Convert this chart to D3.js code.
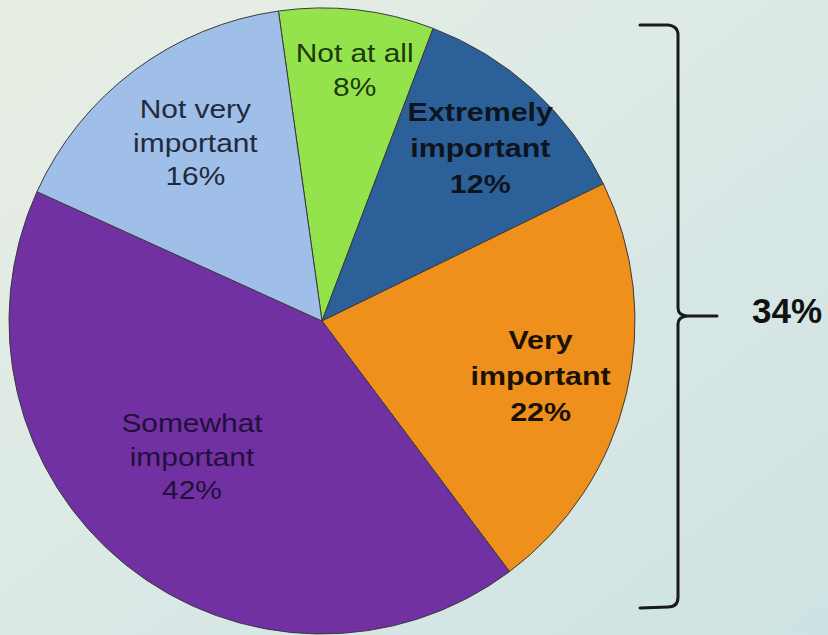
<!DOCTYPE html>
<html><head><meta charset="utf-8">
<script src="https://cdn.jsdelivr.net/npm/d3@7"></script>
<style>html,body{margin:0;padding:0;overflow:hidden;}svg{display:block;}</style>
</head><body>
<script>
// ---- data ----
const categories = ["Not at all", "Extremely important", "Very important", "Somewhat important", "Not very important"];
const labelLines = [["Not at all"], ["Extremely", "important"], ["Very", "important"], ["Somewhat", "important"], ["Not very", "important"]];
const values = [8, 12, 22, 42, 16];
const colors = ["#95e34c", "#2c6099", "#ef901c", "#7131a3", "#9fbfe8"];
const textColors = ["#1d3a0c", "#0d1420", "#1a1206", "#22103a", "#1f2a3e"];
const boldLabel = [false, true, true, false, false];
const bracketLabel = "34%";

// ---- layout ----
const W = 828, H = 635;
const cx = 322, cy = 321, R = 313;
const startDeg = -8;
const labelRadiusFactor = [0.81, 0.75, 0.72, 0.6, 0.70];
const labelAngleShift = [1, 0, 0.5, 5, 1.5];

const svg = d3.select("body").append("svg").attr("width", W).attr("height", H);
const defs = svg.append("defs");
const grad = defs.append("linearGradient").attr("id", "bg").attr("x1", "0").attr("y1", "0").attr("x2", "1").attr("y2", "1");
grad.append("stop").attr("offset", "0").attr("stop-color", "#e9eee3");
grad.append("stop").attr("offset", "0.5").attr("stop-color", "#dbe9e6");
grad.append("stop").attr("offset", "1").attr("stop-color", "#cde2e2");
svg.append("rect").attr("width", W).attr("height", H).attr("fill", "url(#bg)");

const rad = d => d * Math.PI / 180;
const pie = d3.pie().sort(null).value(d => d)
  .startAngle(rad(startDeg)).endAngle(rad(startDeg + 360));
const arcs = pie(values);
const arc = d3.arc().innerRadius(0).outerRadius(R);

const g = svg.append("g").attr("transform", `translate(${cx},${cy})`);
g.selectAll("path.slice").data(arcs).join("path")
  .attr("class", "slice")
  .attr("d", arc)
  .attr("fill", (d, i) => colors[i])
  .attr("stroke", "#3a3a3a")
  .attr("stroke-width", 1);

const fontSize = 26;
arcs.forEach((d, i) => {
  const a = (d.startAngle + d.endAngle) / 2 + rad(labelAngleShift[i]);
  const r = R * labelRadiusFactor[i];
  const x = r * Math.sin(a), y = -r * Math.cos(a);
  const lineH = boldLabel[i] ? 36 : 33.5;
  const sx = boldLabel[i] ? 1.17 : 1.15;
  const lines = labelLines[i].concat([values[i] + "%"]);
  const t = g.append("text")
    .attr("transform", `translate(${x},${y}) scale(${sx},1)`)
    .attr("text-anchor", "middle")
    .attr("font-family", "Liberation Sans, Arial, sans-serif")
    .attr("font-size", fontSize)
    .attr("font-weight", boldLabel[i] ? "bold" : "normal")
    .attr("fill", textColors[i]);
  const y0 = -(lines.length - 1) * lineH / 2 + fontSize * 0.36;
  lines.forEach((s, k) => {
    t.append("tspan").attr("x", 0).attr("y", y0 + k * lineH).text(s);
  });
});

// ---- bracket ----
const bx = 678, bTop = 25, bBot = 607, bLeft = 640, tipY = 316, tipX = 717;
const p = d3.path();
p.moveTo(bLeft, bTop);
p.lineTo(bx - 10, bTop);
p.quadraticCurveTo(bx, bTop + 1, bx, bTop + 10);
p.lineTo(bx, tipY - 8);
p.quadraticCurveTo(bx, tipY - 1, bx + 9, tipY);
p.lineTo(tipX, tipY);
p.moveTo(bx + 9, tipY);
p.quadraticCurveTo(bx, tipY + 1, bx, tipY + 8);
p.lineTo(bx, bBot - 10);
p.quadraticCurveTo(bx, bBot, bx - 10, bBot);
p.lineTo(bLeft, bBot + 1);
svg.append("path").attr("d", p.toString()).attr("fill", "none")
  .attr("stroke", "#1a1a1a").attr("stroke-width", 3).attr("stroke-linecap", "round");

svg.append("text").attr("x", 787).attr("y", tipY + 7)
  .attr("text-anchor", "middle")
  .attr("font-family", "Liberation Sans, Arial, sans-serif")
  .attr("font-size", 35).attr("font-weight", "bold").attr("fill", "#111")
  .text(bracketLabel);
</script>
</body></html>
